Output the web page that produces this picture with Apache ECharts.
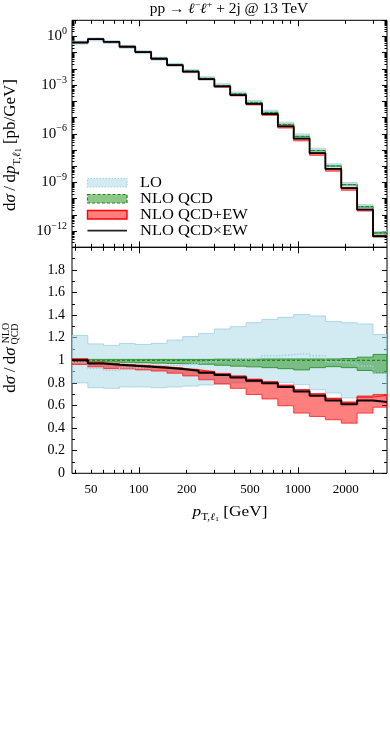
<!DOCTYPE html>
<html>
<head>
<meta charset="utf-8">
<script src="https://cdn.jsdelivr.net/npm/echarts@6/dist/echarts.min.js"></script>
<style>
html, body { margin: 0; padding: 0; background: #fff; }
#chart { width: 390px; height: 747px; }
</style>
</head>
<body>
<div id="chart"></div>
<script>
// bin edges of p_T,l1 in GeV
const binEdges = [38, 47.8, 60, 75.6, 95, 119.6, 150.5, 189, 238, 299, 376, 473, 595, 749, 942, 1186, 1492, 1878, 2362, 2972, 3640];

// NLO QCD central value, pb/GeV
const nloQcd = [0.427, 0.711, 0.488, 0.246, 0.116, 0.0456, 0.0188, 7.45e-3, 2.64e-3, 9.55e-4, 2.90e-4, 8.65e-5, 2.09e-5, 3.80e-6, 6.92e-7, 9.33e-8, 1.05e-8, 7.41e-10, 3.24e-11, 7.59e-13];

// everything below is a ratio to NLO QCD
const loMid = [0.985, 0.93, 0.912, 0.933, 0.93, 0.948, 0.96, 0.975, 0.99, 1.0, 1.005, 1.022, 1.04, 1.05, 1.06, 1.04, 0.985, 0.972, 0.95, 0.885];
const loUp = [1.22, 1.145, 1.132, 1.149, 1.14, 1.15, 1.179, 1.21, 1.238, 1.277, 1.298, 1.333, 1.362, 1.38, 1.405, 1.392, 1.344, 1.332, 1.321, 1.228];
const loLo = [0.80, 0.758, 0.752, 0.764, 0.764, 0.758, 0.764, 0.772, 0.782, 0.794, 0.80, 0.805, 0.808, 0.805, 0.785, 0.74, 0.711, 0.667, 0.675, 0.69];

const nloUp = [1.01, 1.008, 1.008, 1.008, 1.008, 1.008, 1.008, 1.008, 1.008, 1.01, 1.01, 1.01, 1.012, 1.012, 1.012, 1.012, 1.012, 1.015, 1.028, 1.052];
const nloLo = [0.99, 0.985, 0.985, 0.982, 0.978, 0.975, 0.972, 0.97, 0.965, 0.956, 0.948, 0.942, 0.935, 0.926, 0.915, 0.935, 0.944, 0.935, 0.91, 0.888];

const ewAddMid = [1.005, 0.978, 0.967, 0.958, 0.95, 0.941, 0.929, 0.915, 0.898, 0.879, 0.857, 0.829, 0.808, 0.776, 0.737, 0.7, 0.66, 0.625, 0.675, 0.69];
const ewAddUp = [1.015, 0.985, 0.973, 0.963, 0.955, 0.946, 0.934, 0.92, 0.903, 0.884, 0.862, 0.834, 0.812, 0.781, 0.742, 0.705, 0.665, 0.632, 0.684, 0.698];
const ewAddLo = [0.963, 0.942, 0.927, 0.924, 0.915, 0.905, 0.886, 0.862, 0.828, 0.79, 0.752, 0.697, 0.658, 0.598, 0.533, 0.503, 0.474, 0.444, 0.533, 0.585];

const ewMult = [1.0, 0.972, 0.96, 0.952, 0.944, 0.935, 0.922, 0.908, 0.89, 0.87, 0.847, 0.818, 0.797, 0.764, 0.723, 0.687, 0.645, 0.61, 0.645, 0.632];

const xLabels = [50, 100, 200, 500, 1000, 2000];
const yTopLabels = [1, 1e-3, 1e-6, 1e-9, 1e-12];

const FONT = '"Liberation Serif", "DejaVu Serif", serif';

const LO_FILL = 'rgba(173,216,230,0.55)';
const LO_LINE = '#9fcfe0';
const NLO_FILL = 'rgba(50,150,40,0.55)';
const NLO_LINE = '#1c8a1c';
const EW_FILL = 'rgba(255,0,0,0.5)';
const EW_LINE = '#ff1a1a';

// tick positions
const xMajor = [100, 1000];
const xMinor = [];
[10, 100, 1000].forEach(d => { for (let k = 2; k <= 9; k++) xMinor.push(k * d); });
const yMajor = [];
const yMinor = [];
for (let e = -13; e <= 1; e++) {
  yMajor.push(Math.pow(10, e));
  if (e < 1) for (let k = 2; k <= 9; k++) yMinor.push(k * Math.pow(10, e));
}

const chart = echarts.init(document.getElementById('chart'));

const scaled = r => r.map((v, i) => v * nloQcd[i]);
const stepData = vals => binEdges.map((e, i) => [e, vals[Math.min(i, vals.length - 1)]]);

function band(up, lo, fill, stroke, xi, yi) {
  return {
    type: 'custom',
    xAxisIndex: xi,
    yAxisIndex: yi,
    silent: true,
    clip: true,
    data: [[binEdges[0], 1]],
    renderItem: (params, api) => {
      const pts = [];
      for (let i = 0; i < up.length; i++) {
        pts.push(api.coord([binEdges[i], up[i]]));
        pts.push(api.coord([binEdges[i + 1], up[i]]));
      }
      for (let i = lo.length - 1; i >= 0; i--) {
        pts.push(api.coord([binEdges[i + 1], lo[i]]));
        pts.push(api.coord([binEdges[i], lo[i]]));
      }
      return {
        type: 'polygon',
        shape: { points: pts },
        style: { fill: fill, stroke: stroke, lineWidth: 0.8 }
      };
    }
  };
}

function step(vals, color, width, type, xi, yi) {
  return {
    type: 'line',
    xAxisIndex: xi,
    yAxisIndex: yi,
    step: 'end',
    symbol: 'none',
    silent: true,
    data: stepData(vals),
    lineStyle: { color: color, width: width, type: type }
  };
}

function xAxis(grid, pos, ticks, len, labels) {
  return {
    type: 'log',
    gridIndex: grid,
    position: pos,
    min: binEdges[0],
    max: binEdges[binEdges.length - 1],
    axisLine: { show: false, onZero: false },
    splitLine: { show: false },
    axisTick: { show: true, inside: true, length: len, customValues: ticks, lineStyle: { color: '#000', width: 1 } },
    axisLabel: labels ? {
      show: true, customValues: labels, margin: 10,
      color: '#000', fontFamily: FONT, fontSize: 13,
      formatter: v => String(Math.round(v))
    } : { show: false }
  };
}

function yLogAxis(pos, ticks, len, labels) {
  return {
    type: 'log',
    gridIndex: 0,
    position: pos,
    min: 1e-13,
    max: 10,
    axisLine: { show: false, onZero: false },
    splitLine: { show: false },
    axisTick: { show: true, inside: true, length: len, customValues: ticks, lineStyle: { color: '#000', width: 1 } },
    axisLabel: labels ? {
      show: true, customValues: labels, margin: 5,
      color: '#000', fontFamily: FONT,
      formatter: v => {
        const e = Math.round(Math.log10(v));
        return '{b|10}{s|' + (e === 0 ? '0' : '\u2212' + (-e)) + '}';
      },
      rich: {
        b: { fontFamily: FONT, fontSize: 15, color: '#000', lineHeight: 20 },
        s: { fontFamily: FONT, fontSize: 10, color: '#000', verticalAlign: 'top', lineHeight: 12 }
      }
    } : { show: false }
  };
}

function yRatioAxis(pos, labels) {
  return {
    type: 'value',
    gridIndex: 1,
    position: pos,
    min: 0,
    max: 2,
    interval: 0.2,
    axisLine: { show: false, onZero: false },
    splitLine: { show: false },
    axisTick: { show: true, inside: true, length: 5, lineStyle: { color: '#000' } },
    minorTick: { show: true, splitNumber: 2, length: 3, lineStyle: { color: '#000' } },
    axisLabel: labels ? {
      show: true, margin: 7, color: '#000', fontFamily: FONT, fontSize: 14,
      formatter: v => (v > 1.99 ? '' : String(+v.toFixed(1)))
    } : { show: false }
  };
}

const series = [
  // top panel, absolute
  band(scaled(loUp), scaled(loLo), LO_FILL, LO_LINE, 0, 0),
  band(scaled(nloUp), scaled(nloLo), NLO_FILL, NLO_LINE, 0, 0),
  band(scaled(ewAddUp), scaled(ewAddLo), EW_FILL, EW_LINE, 0, 0),
  step(scaled(loMid), LO_LINE, 1.2, [1.5, 1.5], 0, 0),
  step(nloQcd, NLO_LINE, 1, [3, 2], 0, 0),
  step(scaled(ewAddMid), EW_LINE, 1, 'solid', 0, 0),
  step(scaled(ewMult), '#000', 1.8, 'solid', 0, 0),
  // bottom panel, ratio to NLO QCD
  band(loUp, loLo, LO_FILL, LO_LINE, 4, 4),
  band(nloUp, nloLo, NLO_FILL, NLO_LINE, 4, 4),
  band(ewAddUp, ewAddLo, EW_FILL, EW_LINE, 4, 4),
  step(loMid, LO_LINE, 1.4, [1.5, 1.5], 4, 4),
  step(nloQcd.map(v => v / v), NLO_LINE, 1.2, [3, 2], 4, 4),
  step(ewAddMid, EW_LINE, 1.2, 'solid', 4, 4),
  step(ewMult, '#000', 2, 'solid', 4, 4)
];

const legendRows = [
  { label: 'LO', y: 183, fill: LO_FILL, stroke: '#a6d3e2', dash: [1.5, 1.5], w: 1.2 },
  { label: 'NLO QCD', y: 199, fill: NLO_FILL, stroke: NLO_LINE, dash: [3, 2], w: 1.2 },
  { label: 'NLO QCD+EW', y: 215, fill: EW_FILL, stroke: '#ff0000', dash: null, w: 1.4 }
];

const graphic = [
  {
    type: 'text', x: 229, y: 9, scaleX: 1.1,
    style: {
      text: '{r|pp \u2192 }{i|\u2113}{s|\u2212}{i|\u2113}{s|+}{r| + 2j @ 13 TeV}',
      align: 'center', verticalAlign: 'middle',
      rich: {
        r: { fontFamily: FONT, fontSize: 14, fill: '#000', lineHeight: 18 },
        i: { fontFamily: FONT, fontSize: 14, fill: '#000', fontStyle: 'italic', lineHeight: 18 },
        s: { fontFamily: FONT, fontSize: 9, fill: '#000', verticalAlign: 'top', lineHeight: 11 }
      }
    }
  },
  {
    type: 'text', x: 11, y: 145, rotation: Math.PI / 2,
    style: {
      text: '{r|d}{i|\u03c3}{r|\u2009/\u2009d}{i|p}{u|T,}{ui|\u2113}{uu|1}{r| [pb/GeV]}',
      align: 'center', verticalAlign: 'middle',
      rich: {
        r: { fontFamily: FONT, fontSize: 17, fill: '#000', lineHeight: 24 },
        i: { fontFamily: FONT, fontSize: 17, fill: '#000', fontStyle: 'italic', lineHeight: 24 },
        u: { fontFamily: FONT, fontSize: 11, fill: '#000', verticalAlign: 'bottom', lineHeight: 15 },
        ui: { fontFamily: FONT, fontSize: 11, fill: '#000', fontStyle: 'italic', verticalAlign: 'bottom', lineHeight: 15 },
        uu: { fontFamily: FONT, fontSize: 8, fill: '#000', verticalAlign: 'bottom', lineHeight: 11 }
      }
    }
  },
  {
    type: 'text', x: 11, y: 370, rotation: Math.PI / 2,
    style: {
      text: '{r|d}{i|\u03c3}{r|\u2009/\u2009d}{i|\u03c3}',
      align: 'center', verticalAlign: 'middle',
      rich: {
        r: { fontFamily: FONT, fontSize: 17, fill: '#000' },
        i: { fontFamily: FONT, fontSize: 17, fill: '#000', fontStyle: 'italic' }
      }
    }
  },
  {
    type: 'text', x: 6.5, y: 333, rotation: Math.PI / 2,
    style: { text: 'NLO', align: 'center', verticalAlign: 'middle', fontFamily: FONT, fontSize: 10, fill: '#000' }
  },
  {
    type: 'text', x: 15.5, y: 334, rotation: Math.PI / 2,
    style: { text: 'QCD', align: 'center', verticalAlign: 'middle', fontFamily: FONT, fontSize: 10, fill: '#000' }
  },
  {
    type: 'text', x: 230, y: 512, scaleX: 1.15,
    style: {
      text: '{i|p}{u|T,}{ui|\u2113}{uu|1}{r| [GeV]}',
      align: 'center', verticalAlign: 'middle',
      rich: {
        r: { fontFamily: FONT, fontSize: 15, fill: '#000', lineHeight: 21 },
        i: { fontFamily: FONT, fontSize: 15, fill: '#000', fontStyle: 'italic', lineHeight: 21 },
        u: { fontFamily: FONT, fontSize: 10, fill: '#000', verticalAlign: 'bottom', lineHeight: 14 },
        ui: { fontFamily: FONT, fontSize: 10, fill: '#000', fontStyle: 'italic', verticalAlign: 'bottom', lineHeight: 14 },
        uu: { fontFamily: FONT, fontSize: 7, fill: '#000', verticalAlign: 'bottom', lineHeight: 9 }
      }
    }
  }
];

legendRows.forEach(r => {
  graphic.push({
    type: 'rect', shape: { x: 87.5, y: r.y - 4.5, width: 39.5, height: 8.5 },
    style: { fill: r.fill, stroke: r.stroke, lineWidth: r.w, lineDash: r.dash }
  });
  graphic.push({
    type: 'text', x: 140, y: r.y, scaleX: 1.1,
    style: { text: r.label, fontFamily: FONT, fontSize: 15, fill: '#000', verticalAlign: 'middle' }
  });
});
graphic.push({
  type: 'line', shape: { x1: 87.5, y1: 230.7, x2: 127, y2: 230.7 },
  style: { stroke: '#222', lineWidth: 1.8 }
});
graphic.push({
  type: 'text', x: 140, y: 231, scaleX: 1.1,
  style: { text: 'NLO QCD\u00d7EW', fontFamily: FONT, fontSize: 15, fill: '#000', verticalAlign: 'middle' }
});

chart.setOption({
  animation: false,
  backgroundColor: '#fff',
  grid: [
    { left: 72, top: 20.3, width: 315, height: 227, show: true, borderColor: '#000', borderWidth: 1, backgroundColor: 'transparent' },
    { left: 72, top: 247.3, width: 315, height: 226, show: true, borderColor: '#000', borderWidth: 1, backgroundColor: 'transparent' }
  ],
  xAxis: [
    xAxis(0, 'bottom', xMajor, 6, null),
    xAxis(0, 'bottom', xMinor, 3.5, null),
    xAxis(0, 'top', xMajor, 6, null),
    xAxis(0, 'top', xMinor, 3.5, null),
    xAxis(1, 'bottom', xMajor, 6, xLabels),
    xAxis(1, 'bottom', xMinor, 3.5, null),
    xAxis(1, 'top', xMajor, 6, null),
    xAxis(1, 'top', xMinor, 3.5, null)
  ],
  yAxis: [
    yLogAxis('left', yMajor, 5, yTopLabels),
    yLogAxis('left', yMinor, 2.5, null),
    yLogAxis('right', yMajor, 5, null),
    yLogAxis('right', yMinor, 2.5, null),
    yRatioAxis('left', true),
    yRatioAxis('right', false)
  ],
  series: series,
  graphic: graphic
});
</script>
</body>
</html>
